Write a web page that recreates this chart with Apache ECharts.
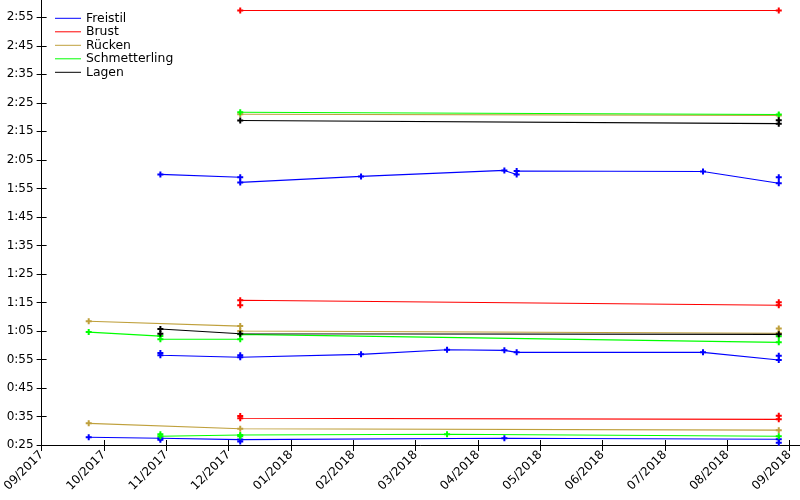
<!DOCTYPE html>
<html>
<head>
<meta charset="utf-8">
<script src="https://cdn.jsdelivr.net/npm/echarts@6/dist/echarts.min.js"></script>
<style>html,body{margin:0;padding:0;background:#fff}#c{width:800px;height:500px}</style>
</head>
<body>
<div id="c"></div>
<script>
// ---- data (seconds per race, by date) ----
const strokes = ['Freistil', 'Brust', 'Rücken', 'Schmetterling', 'Lagen'];

const freistil50 = [['2017-09-24',27.7],['2017-10-29',27.35],['2017-10-29',26.8],['2017-12-07',26.9],['2017-12-07',26.2],['2018-04-15',27.35],['2018-08-27',27.0],['2018-08-27',25.8]];
const freistil100 = [['2017-10-29',57.3],['2017-10-29',56.5],['2017-12-07',55.8],['2017-12-07',56.5],['2018-02-04',56.8],['2018-03-18',58.4],['2018-04-15',58.2],['2018-04-21',57.5],['2018-07-21',57.5],['2018-08-27',54.8],['2018-08-27',56.3]];
const freistil200 = [['2017-10-29',119.9],['2017-12-07',118.9],['2017-12-07',117.1],['2018-02-04',119.2],['2018-04-15',121.3],['2018-04-21',119.9],['2018-04-21',121.1],['2018-07-21',120.9],['2018-08-27',116.8],['2018-08-27',118.9]];

const brust50 = [['2017-12-07',35.2],['2017-12-07',34.4],['2018-08-27',34.0],['2018-08-27',35.3]];
const brust100 = [['2017-12-07',74.0],['2017-12-07',75.75],['2018-08-27',74.0],['2018-08-27',75.1]];
const brust200 = [['2017-12-07',177.4],['2018-08-27',177.4]];

const ruecken50 = [['2017-09-24',32.6],['2017-12-07',30.7],['2018-08-27',30.2]];
const ruecken100 = [['2017-09-24',68.4],['2017-12-07',66.7],['2017-12-07',65.0],['2018-08-27',64.2],['2018-08-27',65.9]];
const ruecken200 = [['2017-12-07',141.0],['2018-08-27',140.6]];

const schmetterling50 = [['2017-10-29',28.8],['2017-10-29',28.05],['2017-12-07',28.5],['2017-12-07',28.1],['2018-03-18',28.75],['2018-08-27',28.05]];
const schmetterling100 = [['2017-09-24',64.6],['2017-10-29',63.2],['2017-10-29',62.1],['2017-12-07',62.1],['2017-12-07',63.8],['2018-08-27',61.0],['2018-08-27',63.1]];
const schmetterling200 = [['2017-12-07',141.7],['2018-08-27',140.9]];

const lagen100 = [['2017-10-29',64.0],['2017-10-29',65.7],['2017-12-07',64.0],['2018-08-27',63.8]];
const lagen200 = [['2017-12-07',138.8],['2018-08-27',137.7],['2018-08-27',138.9]];

// ---- ticks ----
const xTickLabels = ['09/2017','10/2017','11/2017','12/2017','01/2018','02/2018','03/2018','04/2018','05/2018','06/2018','07/2018','08/2018','09/2018'];
const yTickSeconds = [25,35,45,55,65,75,85,95,105,115,125,135,145,155,165,175];

// ---- build ----
const ORIGIN = Date.UTC(2017, 8, 1);
const DAY = 864e5;
const TICK_STEP = 365.25 / 12;
const xTickDays = xTickLabels.map((_, i) => i * TICK_STEP);
const toDays = d => (Date.parse(d + 'T00:00:00Z') - ORIGIN) / DAY;
const pts = arr => arr.map(([d, s]) => [toDays(d), s]);

const colors = {
  'Freistil': '#0000ff',
  'Brust': '#ff0000',
  'Rücken': '#bfa03c',
  'Schmetterling': '#00ff00',
  'Lagen': '#000000'
};
const groups = [
  ['Freistil', [freistil50, freistil100, freistil200]],
  ['Brust', [brust50, brust100, brust200]],
  ['Rücken', [ruecken50, ruecken100, ruecken200]],
  ['Schmetterling', [schmetterling50, schmetterling100, schmetterling200]],
  ['Lagen', [lagen100, lagen200]]
];
const plus = 'path://M1,0H2V1H3V2H2V3H1V2H0V1H1Z';
const series = [];
groups.forEach(([name, lists]) => {
  lists.forEach(list => {
    series.push({
      type: 'line', name, data: pts(list),
      color: colors[name],
      lineStyle: { width: 1.1, color: colors[name] },
      itemStyle: { color: colors[name] },
      symbol: plus, symbolSize: 6, showSymbol: true,
      animation: false
    });
  });
});

const fmtTime = s => Math.floor(s / 60) + ':' + String(Math.round(s % 60)).padStart(2, '0');
const font = { fontFamily: 'DejaVu Sans', fontSize: 12, color: '#000' };
const X_MAX = 370.37, Y_MIN = 25, Y_MAX = 181.07;

const chart = echarts.init(document.getElementById('c'), null, { renderer: 'canvas' });
chart.setOption({
  animation: false,
  backgroundColor: '#fff',
  grid: { left: 40, right: 0, top: 0, bottom: 55 },
  legend: {
    data: strokes, orient: 'vertical', left: 55, top: 12.3, padding: 0,
    icon: 'rect', itemWidth: 26, itemHeight: 1, itemGap: 1.5,
    textStyle: { ...font, fontSize: 12.4 }, selectedMode: false
  },
  xAxis: [{
    type: 'value', min: 0, max: X_MAX, position: 'bottom',
    axisLine: { lineStyle: { color: '#000', width: 1 } },
    axisTick: { show: true, length: 6, customValues: xTickDays, lineStyle: { color: '#000' } },
    axisLabel: { ...font, rotate: 45, margin: 8, customValues: xTickDays,
      formatter: v => { const i = xTickDays.findIndex(t => Math.abs(t - v) < 1e-6); return i >= 0 ? xTickLabels[i] : ''; } },
    splitLine: { show: false }
  }, {
    type: 'value', min: 0, max: X_MAX, position: 'bottom', offset: 0,
    axisLine: { show: false },
    axisTick: { show: true, inside: true, length: 5, customValues: xTickDays, lineStyle: { color: '#000' } },
    axisLabel: { show: false },
    splitLine: { show: false }
  }],
  yAxis: [{
    type: 'value', min: Y_MIN, max: Y_MAX, position: 'left',
    axisLine: { show: true, lineStyle: { color: '#000', width: 1 } },
    axisTick: { show: true, length: 5, customValues: yTickSeconds, lineStyle: { color: '#000' } },
    axisLabel: { ...font, margin: 8, customValues: yTickSeconds, formatter: v => fmtTime(v) },
    splitLine: { show: false }
  }, {
    type: 'value', min: Y_MIN, max: Y_MAX, position: 'left', offset: 0,
    axisLine: { show: false },
    axisTick: { show: true, inside: true, length: 5, customValues: yTickSeconds, lineStyle: { color: '#000' } },
    axisLabel: { show: false },
    splitLine: { show: false }
  }],
  series
});
</script>
</body>
</html>
